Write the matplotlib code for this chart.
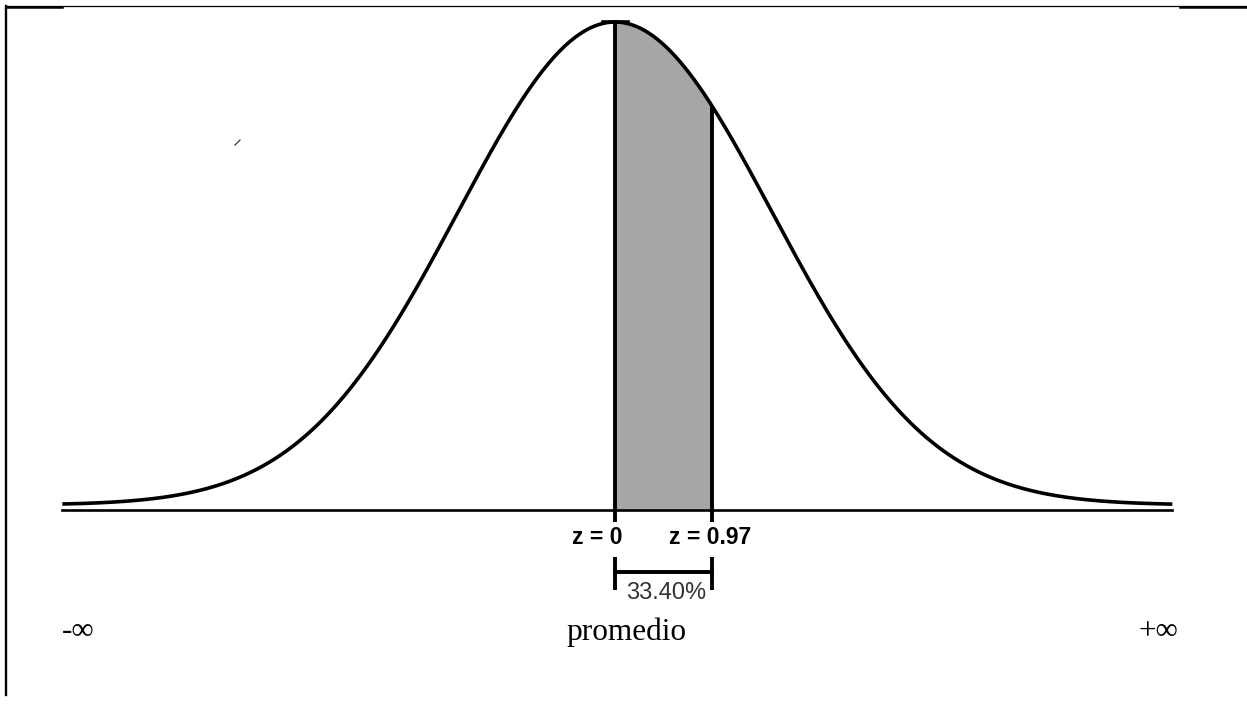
import numpy as np
import matplotlib
matplotlib.use("Agg")
import matplotlib.pyplot as plt
from matplotlib.lines import Line2D
from matplotlib import font_manager

# curve parameters (drawn in standard units)
mean = 0.0
sd = 1.0
curve_range = [-3.52, 3.55]

# shaded region as drawn on the curve, and its labels
shade_edges = [0.0, 0.62]
z_labels = ["z = 0", "z = 0.97"]
area_label = "33.40%"
bottom_labels = ["-∞", "promedio", "+∞"]
bottom_label_x = [-3.42, 0.076, 3.46]

# pixel mapping of the reference picture
W, H = 1247, 705
px_x = 157.0              # pixels per sd
x0_px = 615.0             # pixel column of the mean
peak = 1 / np.sqrt(2 * np.pi)
px_y = 483.0 / peak       # pixels per density unit
base_px = 505.0           # pixel row of density 0


def dy(p):
    # pixel row -> data y
    return (base_px - p) / px_y


# pick a regular-width bold sans (avoid the Narrow variant)
bold_font = None
for f in font_manager.fontManager.ttflist:
    if f.name == "Liberation Sans" and f.weight in (700, "bold") and f.style == "normal" \
            and "Narrow" not in f.fname:
        bold_font = font_manager.FontProperties(fname=f.fname, size=16.5)
        break
if bold_font is None:
    bold_font = font_manager.FontProperties(family="Roboto", weight="bold", size=16.5)

fig = plt.figure(figsize=(W / 100, H / 100), dpi=100)
ax = fig.add_axes([0, 0, 1, 1])
ax.set_xlim(-x0_px / px_x, (W - x0_px) / px_x)
ax.set_ylim(dy(H), dy(0))
ax.axis("off")

x = np.linspace(curve_range[0], curve_range[1], 800)
pdf = np.exp(-0.5 * ((x - mean) / sd) ** 2) / (sd * np.sqrt(2 * np.pi))
axis_y = dy(510)

# shaded area
xs = np.linspace(shade_edges[0], shade_edges[1], 200)
ps = np.exp(-0.5 * ((xs - mean) / sd) ** 2) / (sd * np.sqrt(2 * np.pi))
ax.fill_between(xs, axis_y, ps, color="#a6a6a6", lw=0)

# horizontal axis and curve
ax.plot([curve_range[0], curve_range[1]], [axis_y, axis_y], color="black", lw=1.9)
ax.plot(x, pdf, color="black", lw=2.6, solid_capstyle="butt")
ax.plot([-0.076, 0.083], [peak, peak], color="black", lw=2.6)

# vertical edges of the shaded area
for e in shade_edges:
    top = np.exp(-0.5 * ((e - mean) / sd) ** 2) / (sd * np.sqrt(2 * np.pi))
    ax.plot([e, e], [top, dy(522)], color="black", lw=2.8, solid_capstyle="butt")

# z labels
ax.text(-0.115, dy(538), z_labels[0], ha="center", va="center", fontproperties=bold_font)
ax.text(0.605, dy(538), z_labels[1], ha="center", va="center", fontproperties=bold_font)

# bracket with the area percentage
ax.plot(shade_edges, [dy(572), dy(572)], color="black", lw=2.8)
for e in shade_edges:
    ax.plot([e, e], [dy(557), dy(590)], color="black", lw=2.8, solid_capstyle="butt")
ax.text(np.mean(shade_edges) + 0.015, dy(593), area_label, ha="center", va="center",
        fontsize=17, color="#333333", family="Liberation Sans")

# bottom labels
for lab, lx in zip(bottom_labels, bottom_label_x):
    ax.text(lx, dy(632), lab, ha="center", va="center",
            fontsize=22.5, family="Liberation Serif")

# small stray mark
ax.plot([(235 - x0_px) / px_x, (240 - x0_px) / px_x], [dy(145), dy(140)],
        color="#333333", lw=0.9)

# frame lines of the original picture (figure pixel coordinates)
def fx(p):
    return p / W


def fy(p):
    return 1 - p / H


fig.add_artist(Line2D([fx(6), fx(6)], [fy(6), fy(695)], color="black", lw=1.7))
fig.add_artist(Line2D([fx(6), fx(W)], [fy(6), fy(6)], color="black", lw=0.9))
fig.add_artist(Line2D([fx(6), fx(62)], [fy(6.5), fy(6.5)], color="black", lw=1.8))
fig.add_artist(Line2D([fx(1180), fx(W)], [fy(7), fy(7)], color="black", lw=1.8))

fig.savefig("out.png", dpi=100, facecolor="white")
